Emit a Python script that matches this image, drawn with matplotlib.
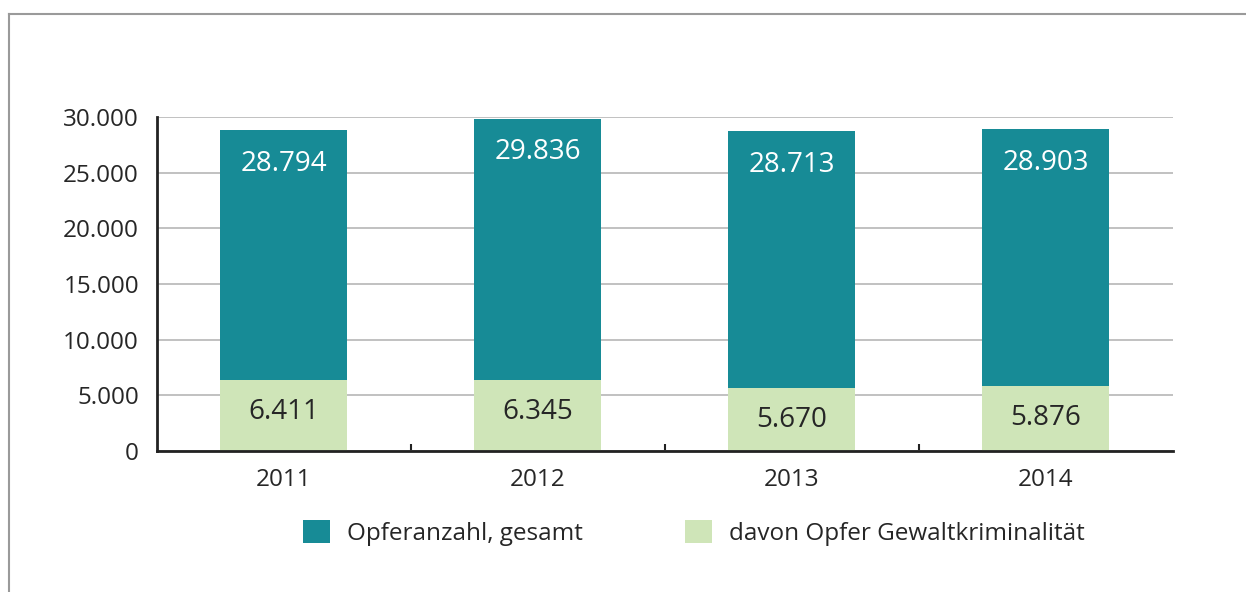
import matplotlib
matplotlib.use("Agg")
import matplotlib.pyplot as plt
from matplotlib.patches import Patch
from matplotlib.lines import Line2D
from matplotlib.ticker import FuncFormatter

plt.rcParams['font.family'] = ['Open Sans', 'DejaVu Sans']

years = ['2011', '2012', '2013', '2014']
total = [28794, 29836, 28713, 28903]
violent = [6411, 6345, 5670, 5876]

teal = '#178b96'
green = '#cfe5b8'
text_col = '#262626'


def de_fmt(v):
    return f"{int(v):,}".replace(',', '.')


fig = plt.figure(figsize=(12.46, 5.92), dpi=100)
ax = fig.add_axes([0.126, 0.2382, 0.8154, 0.5642])

x = range(len(years))
ax.bar(x, total, width=0.5, color=teal, zorder=2)
ax.bar(x, violent, width=0.5, color=green, zorder=3)

for i in x:
    ax.annotate(de_fmt(total[i]), (i, total[i]), xytext=(0, -24), textcoords='offset points',
                ha='center', va='center', color='white', fontsize=20, zorder=4)
    ax.annotate(de_fmt(violent[i]), (i, violent[i]), xytext=(0, -23), textcoords='offset points',
                ha='center', va='center', color=text_col, fontsize=20, zorder=4)

ax.set_xlim(-0.5, 3.5)
ax.set_ylim(0, 30000)
ax.set_yticks(range(0, 30001, 5000))
ax.yaxis.set_major_formatter(FuncFormatter(lambda v, p: de_fmt(v)))
ax.set_xticks(list(x))
ax.set_xticklabels(years)
ax.set_xticks([0.5, 1.5, 2.5], minor=True)
ax.tick_params(axis='x', which='major', length=0, pad=12, labelsize=17.5, labelcolor=text_col)
ax.tick_params(axis='x', which='minor', direction='in', length=5, width=1.5, color='#222222')
ax.tick_params(axis='y', length=0, pad=13, labelsize=17.5, labelcolor=text_col)

ax.grid(axis='y', color='#bcbcbc', linewidth=1.3, zorder=1)
ax.set_axisbelow(True)
for s in ['top', 'right']:
    ax.spines[s].set_visible(False)
for s in ['left', 'bottom']:
    ax.spines[s].set_linewidth(2)
    ax.spines[s].set_color('#222222')
    ax.spines[s].set_zorder(5)

handles = [Patch(facecolor=teal, label='Opferanzahl, gesamt'),
           Patch(facecolor=green, label='davon Opfer Gewaltkriminalität')]
leg = fig.legend(handles=handles, loc='center', bbox_to_anchor=(0.557, 0.100), ncol=2,
                 frameon=False, fontsize=17.5, handlelength=1.1, handleheight=1.1,
                 handletextpad=0.7, columnspacing=4.2, labelcolor=text_col)

# outer frame: top and left lines
fig.add_artist(Line2D([9 / 1246, 1], [1 - 14 / 592, 1 - 14 / 592], transform=fig.transFigure,
                      color='#9a9a9a', linewidth=1.5))
fig.add_artist(Line2D([9 / 1246, 9 / 1246], [0, 1 - 14 / 592], transform=fig.transFigure,
                      color='#9a9a9a', linewidth=1.5))

fig.savefig('out.png', dpi=100)
